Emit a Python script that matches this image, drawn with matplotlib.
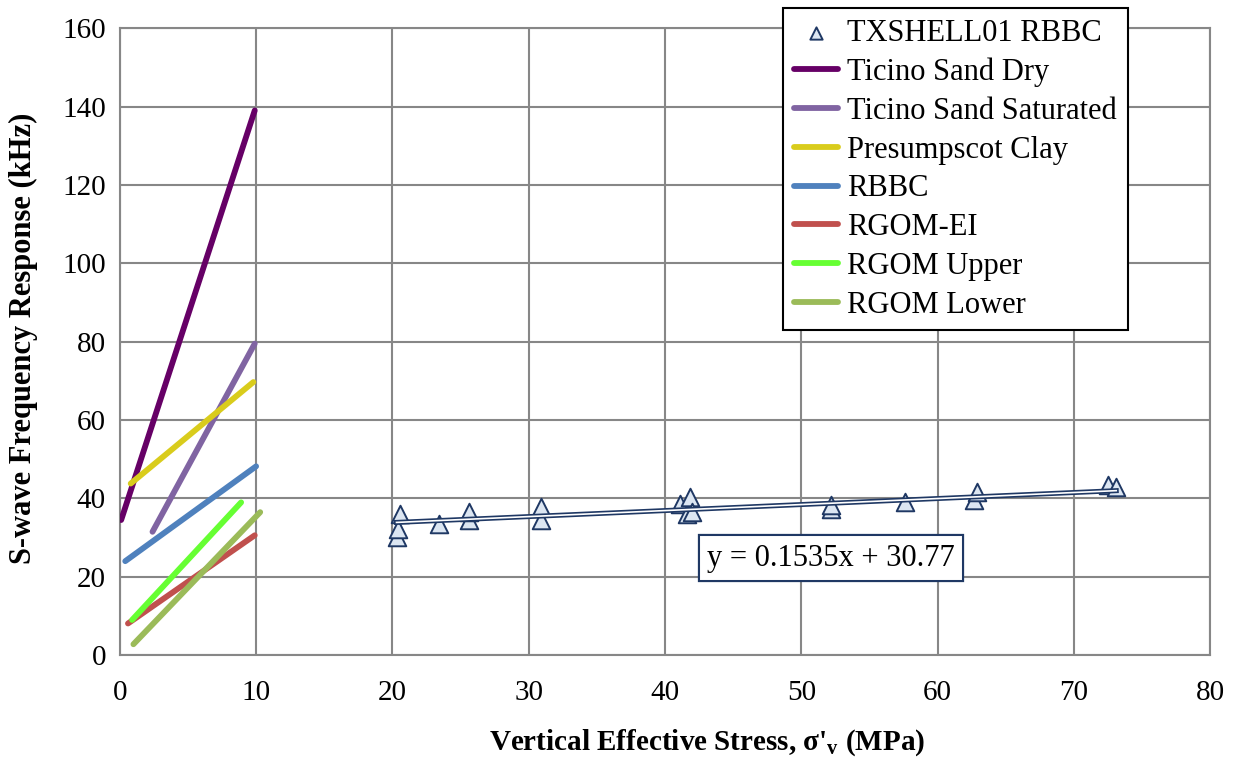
import matplotlib
matplotlib.use("Agg")
from matplotlib import pyplot as plt
from matplotlib import patheffects as pe
import numpy as np

# Reference lines (start and end points)
line_names = ["Ticino Sand Dry", "Ticino Sand Saturated", "Presumpscot Clay", "RBBC",
              "RGOM-EI", "RGOM Upper", "RGOM Lower"]
line_x = [[0.1, 9.9], [2.4, 9.9], [0.8, 9.8], [0.4, 10.0],
          [0.6, 9.9], [0.9, 8.9], [1.0, 10.3]]
line_y = [[34.5, 139.0], [31.5, 79.5], [43.8, 69.7], [24.0, 48.2],
          [8.1, 30.6], [9.0, 39.0], [2.8, 36.5]]
line_colors = ["#660066", "#8064a2", "#d9cc1c", "#4f81bd", "#c0504d", "#66ff33", "#9bbb59"]

# TXSHELL01 RBBC measurements
tx_x = [20.3, 20.4, 20.55, 23.4, 25.6, 25.6, 30.9, 30.9, 41.1, 41.6, 41.8, 41.95,
        52.2, 52.2, 57.6, 62.7, 62.9, 72.5, 73.1]
tx_y = [30.2, 32.3, 36.1, 33.6, 34.4, 36.6, 34.4, 37.8, 38.7, 36.0, 40.4, 36.6,
        37.2, 38.3, 39.1, 39.5, 41.7, 43.4, 42.9]

# Linear fit shown on the chart
slope = 0.1535
intercept = 30.77

serif = "Liberation Serif"
plt.rcParams["font.family"] = serif
plt.rcParams["mathtext.fontset"] = "custom"
plt.rcParams["mathtext.bf"] = "Liberation Serif:bold"
plt.rcParams["mathtext.rm"] = "Liberation Serif"

fig = plt.figure(figsize=(12.35, 7.61), dpi=100)
ax = fig.add_axes([0.097, 0.139, 0.883, 0.824])

handles = []
h = ax.scatter(tx_x, tx_y, marker="^", s=160, facecolor="#dce6f2", edgecolor="#1f3864",
               linewidth=1.4, zorder=4, label="TXSHELL01 RBBC")
handles.append(h)

fx = np.array([min(tx_x), max(tx_x)])
ax.plot(fx, slope * fx + intercept, color="#1f3864", lw=1.0, zorder=5,
        path_effects=[pe.Stroke(linewidth=3.6, foreground="#1f3864"),
                      pe.Stroke(linewidth=1.2, foreground="white")])

for name, xs, ys, c in zip(line_names, line_x, line_y, line_colors):
    l, = ax.plot(xs, ys, color=c, lw=4.2, solid_capstyle="round", zorder=3, label=name)
    handles.append(l)

ax.set_xlim(0, 80)
ax.set_ylim(0, 160)
ax.set_xticks(range(0, 81, 10))
ax.set_yticks(range(0, 161, 20))
ax.grid(True, color="#878787", lw=1.5)
ax.set_axisbelow(True)
for s in ax.spines.values():
    s.set_color("#878787")
    s.set_linewidth(1.5)
ax.tick_params(length=0, labelsize=21)
ax.tick_params(axis="y", pad=10)
ax.tick_params(axis="x", pad=18)

ax.set_xlabel(r"Vertical Effective Stress, σ'$_\mathbf{v}$ (MPa)", fontsize=21,
              fontweight="bold")
ax.xaxis.set_label_coords(0.539, -0.115)
ax.set_ylabel("S-wave Frequency Response (kHz)", fontsize=22, fontweight="bold")
ax.yaxis.set_label_coords(-0.075, 0.505)

t = ax.text(52.2, 24.8, "y = 0.1535x + 30.77", fontsize=22, ha="center", va="center", zorder=6,
            bbox=dict(boxstyle="square,pad=0.2", facecolor="white", edgecolor="#1f3864", lw=1))
t.get_bbox_patch().set_path_effects([pe.Stroke(linewidth=4.5, foreground="#1f3864"),
                                     pe.Stroke(linewidth=1.4, foreground="white")])

leg = fig.legend(handles=handles, loc="upper left", bbox_to_anchor=(0.634, 0.9895),
                 borderaxespad=0, fontsize=22, frameon=True, fancybox=False, framealpha=1,
                 edgecolor="black", handlelength=1.45, handletextpad=0.3,
                 labelspacing=0.32, borderpad=0.35, scatterpoints=1, markerscale=0.7)
leg.get_frame().set_linewidth(1.5)

fig.savefig("out.png", dpi=100)
